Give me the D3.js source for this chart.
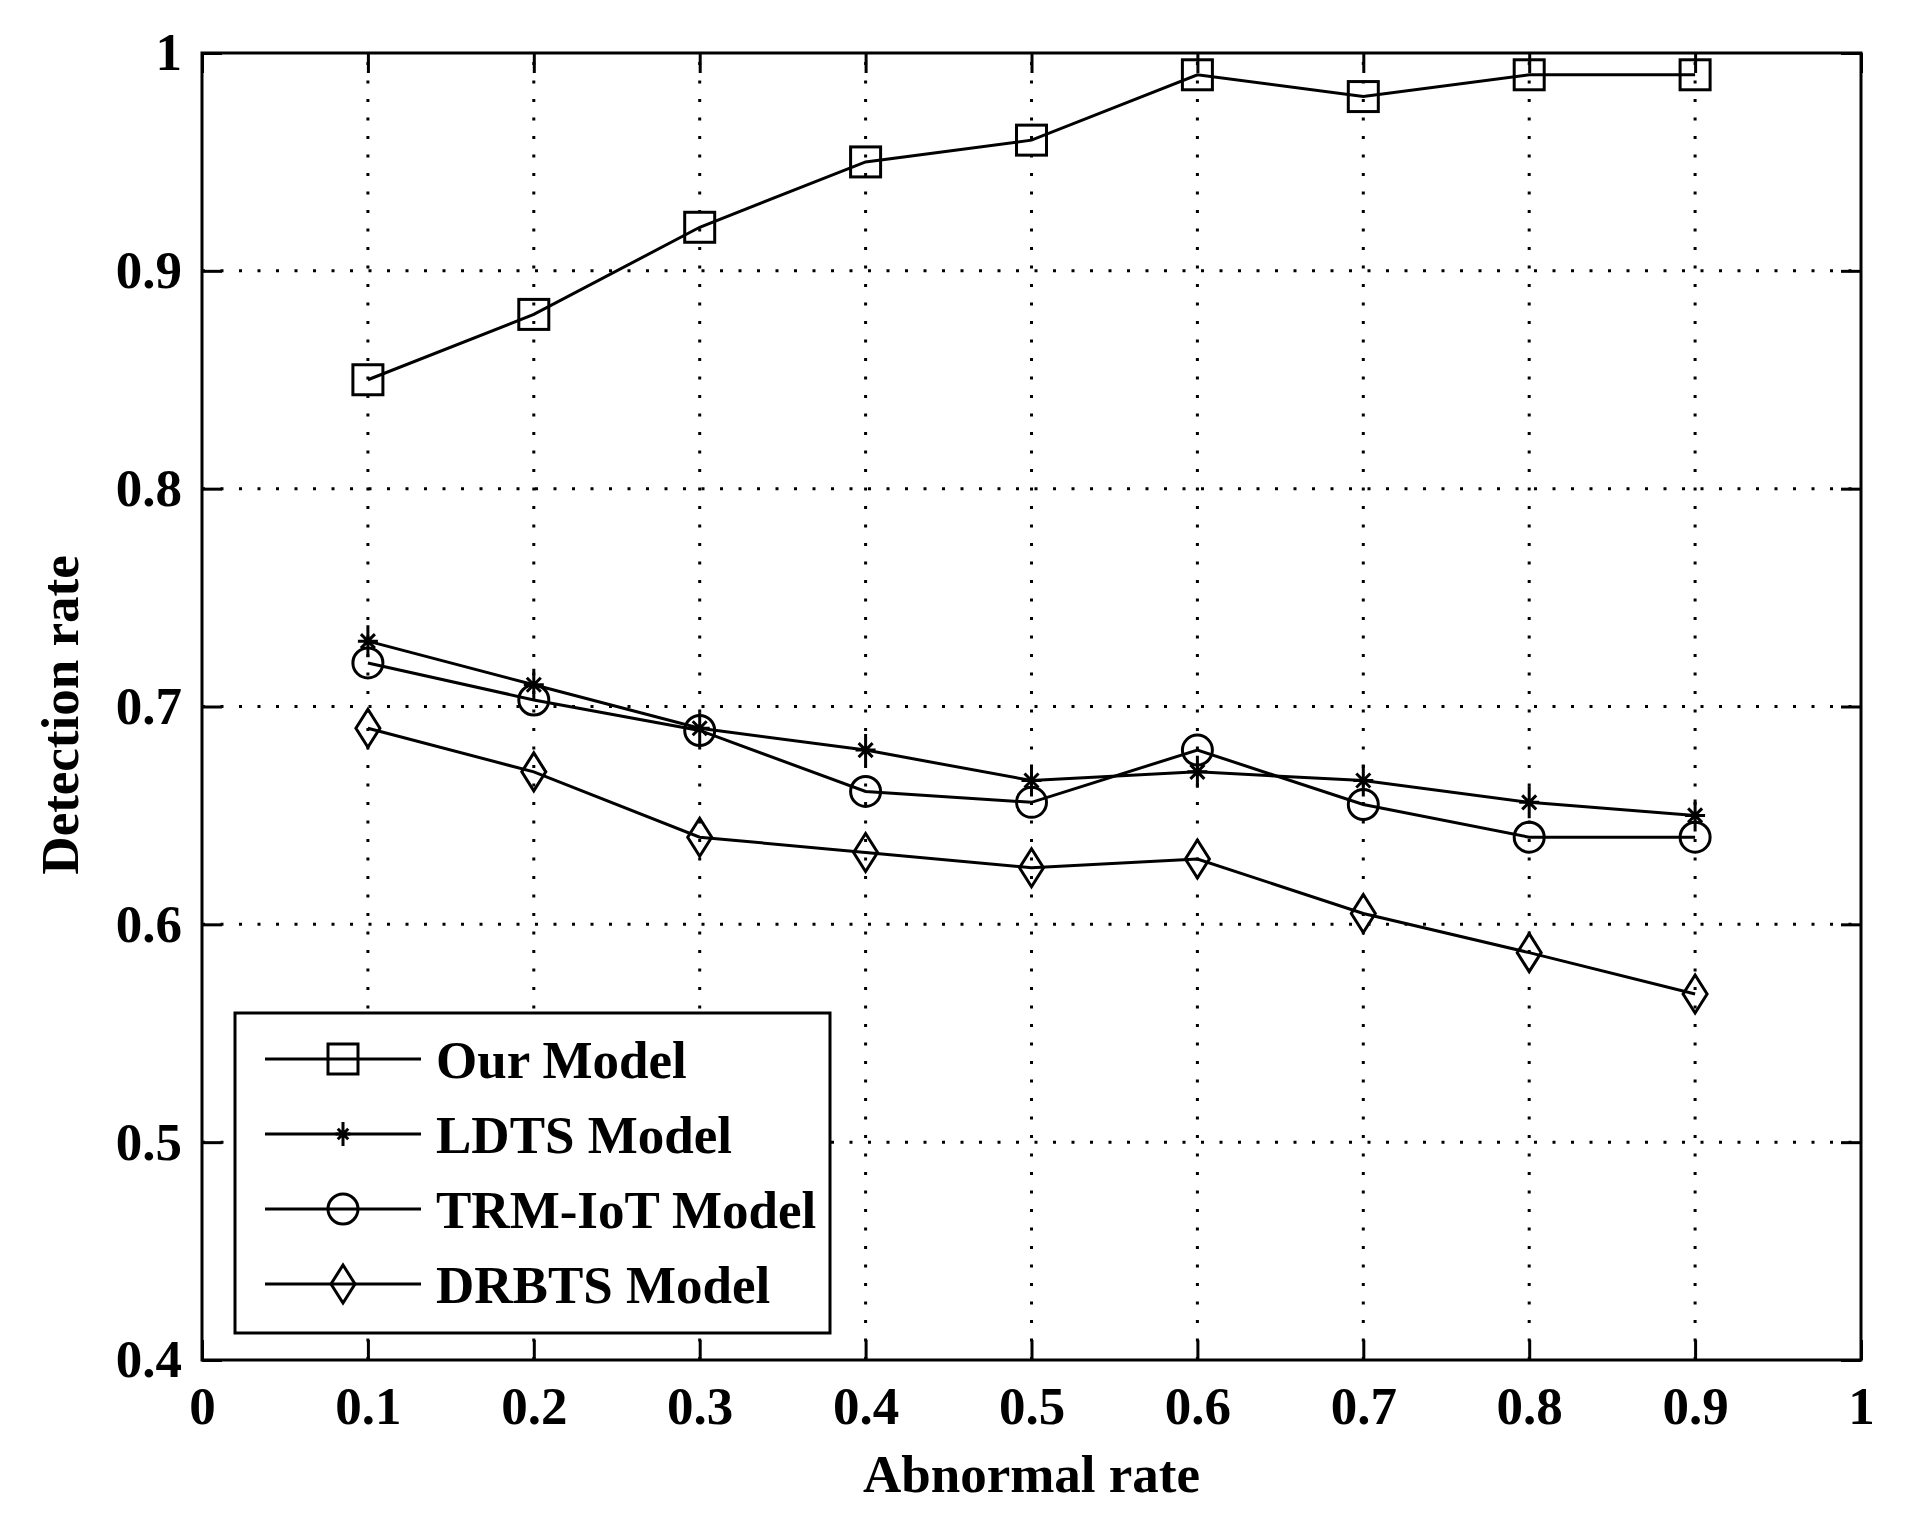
<!DOCTYPE html>
<html>
<head>
<meta charset="utf-8">
<title>Detection rate vs abnormal rate</title>
<script src="https://cdn.jsdelivr.net/npm/d3@7/dist/d3.min.js"></script>
<style>
    body { margin: 0; background: #fff; }
    svg text { font-family: "Liberation Serif", "Times New Roman", serif; font-weight: bold; fill: #000; }
</style>
</head>
<body>
<div id="chart"></div>
<script>
// values
var abnormalRates = [0.1, 0.2, 0.3, 0.4, 0.5, 0.6, 0.7, 0.8, 0.9];
var ourModel = [0.85, 0.88, 0.92, 0.95, 0.96, 0.99, 0.98, 0.99, 0.99];
var ldtsModel = [0.73, 0.71, 0.69, 0.68, 0.666, 0.67, 0.666, 0.656, 0.65];
var trmIotModel = [0.72, 0.703, 0.689, 0.661, 0.656, 0.68, 0.655, 0.64, 0.64];
var drbtsModel = [0.69, 0.67, 0.64, 0.633, 0.626, 0.63, 0.605, 0.587, 0.568];

var seriesNames = ['Our Model', 'LDTS Model', 'TRM-IoT Model', 'DRBTS Model'];
var seriesMarkers = ['square', 'star', 'circle', 'diamond'];
var xTicks = [0, 0.1, 0.2, 0.3, 0.4, 0.5, 0.6, 0.7, 0.8, 0.9, 1];
var yTicks = [0.4, 0.5, 0.6, 0.7, 0.8, 0.9, 1];
var xLabel = 'Abnormal rate';
var yLabel = 'Detection rate';

(function () {
    var W = 1906, H = 1535;
    var left = 202, right = 1861, top = 53, bottom = 1360;
    var FONT = 53;
    var tickLen = 20;

    var allSeries = [ourModel, ldtsModel, trmIotModel, drbtsModel];

    var x = d3.scaleLinear().domain([0, 1]).range([left, right]);
    var y = d3.scaleLinear().domain([0.4, 1]).range([bottom, top]);

    var svg = d3.select("#chart").append("svg")
        .attr("width", W)
        .attr("height", H);

    var fmt = function (d) { return d3.format("~g")(d); };

    //region grid
    var grid = svg.append("g").attr("class", "grid")
        .attr("stroke", "#000")
        .attr("stroke-width", 3)
        .attr("stroke-dasharray", "3,15.5");
    grid.selectAll("line.gx")
        .data(xTicks.filter(function (d) { return d > 0 && d < 1; }))
        .enter().append("line")
        .attr("class", "gx")
        .attr("x1", function (d) { return x(d); })
        .attr("x2", function (d) { return x(d); })
        .attr("y1", bottom)
        .attr("y2", top);
    grid.selectAll("line.gy")
        .data(yTicks.filter(function (d) { return d > 0.4 && d < 1; }))
        .enter().append("line")
        .attr("class", "gy")
        .attr("x1", left)
        .attr("x2", right)
        .attr("y1", function (d) { return y(d); })
        .attr("y2", function (d) { return y(d); });
    //endregion

    //region markers
    var _drawMarker = function (g, type, cx, cy, s) {
        s = s || 1;
        if (type == 'square') {
            g.append("rect")
                .attr("x", cx - 15).attr("y", cy - 15)
                .attr("width", 30).attr("height", 30);
        } else if (type == 'circle') {
            g.append("circle")
                .attr("cx", cx).attr("cy", cy).attr("r", 15);
        } else if (type == 'diamond') {
            g.append("path")
                .attr("d", "M" + cx + "," + (cy - 19) + "L" + (cx + 12) + "," + cy +
                    "L" + cx + "," + (cy + 19) + "L" + (cx - 12) + "," + cy + "Z");
        } else if (type == 'star') {
            // plus + cross, like the matlab '*' marker (taller than wide)
            var v = 16 * s, h = 10 * s, d = 7 * s;
            g.append("path")
                .attr("d", "M" + cx + "," + (cy - v) + "V" + (cy + v) +
                    "M" + (cx - h) + "," + cy + "H" + (cx + h) +
                    "M" + (cx - d) + "," + (cy - d) + "L" + (cx + d) + "," + (cy + d) +
                    "M" + (cx - d) + "," + (cy + d) + "L" + (cx + d) + "," + (cy - d));
        }
    };
    //endregion

    //region data lines
    var line = d3.line()
        .x(function (d, i) { return x(abnormalRates[i]); })
        .y(function (d) { return y(d); });

    allSeries.forEach(function (vals, k) {
        var g = svg.append("g").attr("class", "series")
            .attr("fill", "none")
            .attr("stroke", "#000")
            .attr("stroke-width", 3);
        g.append("path").attr("d", line(vals));
        vals.forEach(function (v, i) {
            _drawMarker(g, seriesMarkers[k], x(abnormalRates[i]), y(v), 1);
        });
    });
    //endregion

    //region axes
    var axisStyle = function (sel) {
        sel.select(".domain").remove();
        sel.selectAll(".tick line").attr("stroke", "#000").attr("stroke-width", 3);
        sel.selectAll(".tick text")
            .style("font-size", FONT + "px")
            .style("font-family", '"Liberation Serif", "Times New Roman", serif')
            .style("font-weight", "bold")
            .attr("fill", "#000");
    };

    svg.append("g")
        .attr("transform", "translate(0," + bottom + ")")
        .call(d3.axisBottom(x).tickValues(xTicks).tickSize(-tickLen).tickPadding(26).tickFormat(fmt))
        .call(axisStyle);
    svg.append("g")
        .attr("transform", "translate(" + left + ",0)")
        .call(d3.axisLeft(y).tickValues(yTicks).tickSize(-tickLen).tickPadding(20).tickFormat(fmt))
        .call(axisStyle);
    svg.append("g")
        .attr("transform", "translate(0," + top + ")")
        .call(d3.axisTop(x).tickValues(xTicks).tickSize(-tickLen).tickFormat(""))
        .call(axisStyle);
    svg.append("g")
        .attr("transform", "translate(" + right + ",0)")
        .call(d3.axisRight(y).tickValues(yTicks).tickSize(-tickLen).tickFormat(""))
        .call(axisStyle);

    svg.append("rect")
        .attr("x", left).attr("y", top)
        .attr("width", right - left).attr("height", bottom - top)
        .attr("fill", "none")
        .attr("stroke", "#000")
        .attr("stroke-width", 3);

    svg.append("text")
        .attr("x", (left + right) / 2)
        .attr("y", 1492)
        .attr("text-anchor", "middle")
        .style("font-size", FONT + "px")
        .text(xLabel);

    svg.append("text")
        .attr("transform", "translate(78," + 715 + ") rotate(-90)")
        .attr("text-anchor", "middle")
        .style("font-size", FONT + "px")
        .text(yLabel);
    //endregion

    //region legend
    var legend = svg.append("g").attr("class", "legend");
    legend.append("rect")
        .attr("x", 235).attr("y", 1013)
        .attr("width", 595).attr("height", 320)
        .attr("fill", "#fff")
        .attr("stroke", "#000")
        .attr("stroke-width", 3);

    seriesNames.forEach(function (name, k) {
        var ry = 1059 + k * 75;
        var g = legend.append("g")
            .attr("fill", "none")
            .attr("stroke", "#000")
            .attr("stroke-width", 3);
        g.append("line")
            .attr("x1", 265).attr("x2", 421)
            .attr("y1", ry).attr("y2", ry);
        _drawMarker(g, seriesMarkers[k], 343, ry, 0.75);
        legend.append("text")
            .attr("x", 436)
            .attr("y", ry + 19)
            .style("font-size", FONT + "px")
            .text(name);
    });
    //endregion
})();
</script>
</body>
</html>
